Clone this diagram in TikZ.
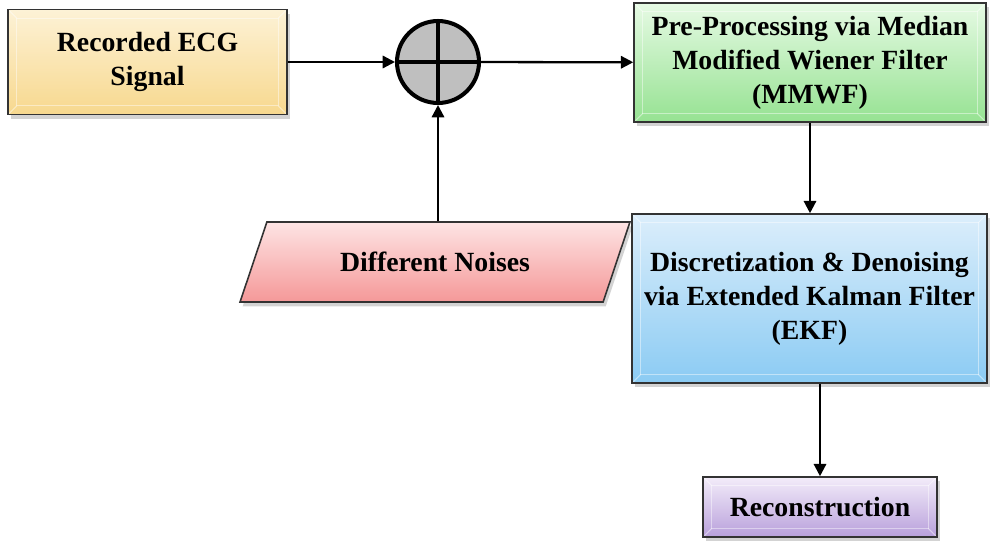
\documentclass[tikz,border=0pt]{standalone}
\usepackage{fontspec}
\setmainfont{Liberation Serif}
\usetikzlibrary{arrows.meta,shapes.geometric,shadows}
\definecolor{ecgtop}{HTML}{FDF2D6}
\definecolor{ecgbot}{HTML}{F7D88E}
\definecolor{wftop}{HTML}{E6FAE4}
\definecolor{wfbot}{HTML}{96E292}
\definecolor{kftop}{HTML}{DCEEFB}
\definecolor{kfbot}{HTML}{8BCBF3}
\definecolor{nztop}{HTML}{FDE4E4}
\definecolor{nzbot}{HTML}{F59898}
\definecolor{rctop}{HTML}{F3ECF9}
\definecolor{rcbot}{HTML}{B8A0DB}
\tikzset{
  bevel/.style={path picture={
    \draw[white,opacity=.45,line width=.6pt]
      ([shift={(5pt,-5pt)}]path picture bounding box.north west) rectangle
      ([shift={(-5pt,5pt)}]path picture bounding box.south east);
    \foreach \c/\dx/\dy in {north west/5pt/-5pt,north east/-5pt/-5pt,
                            south west/5pt/5pt,south east/-5pt/5pt}
      \draw[white,opacity=.45,line width=.6pt] (path picture bounding box.\c) -- ++(\dx,\dy);
  }},
  shade/.style={drop shadow={shadow xshift=1.5pt,shadow yshift=-2.5pt,opacity=.35}},
  block/.style={draw=black!80, line width=0.9pt, align=center, inner sep=2pt,
    font=\fontsize{15.8}{19.3}\selectfont\bfseries, shade},
}

\begin{document}
\begin{tikzpicture}[x=0.02cm,y=-0.02cm,
  arr/.style={-{Triangle[length=7pt,width=7pt]}, line width=1.3pt}]
\useasboundingbox (0,0) rectangle (990,544);

% processing chain
\node[block, bevel, top color=ecgtop, bottom color=ecgbot,
      minimum width=5.58cm, minimum height=2.1cm] (ecg) at (147.5,62)
      {Recorded ECG\\Signal};
\node[circle, draw, line width=2.3pt, fill=black!25, minimum size=1.64cm,
      path picture={
        \draw[line width=1.8pt] (path picture bounding box.north) -- (path picture bounding box.south);
        \draw[line width=1.8pt] (path picture bounding box.west) -- (path picture bounding box.east);
      }] (sum) at (438,62) {};
\node[block, bevel, top color=wftop, bottom color=wfbot,
      minimum width=7.04cm, minimum height=2.38cm] (mmwf) at (810,62.5)
      {Pre-Processing via Median\\Modified Wiener Filter\\(MMWF)};
\node[block, trapezium, trapezium left angle=45, trapezium right angle=135,
      trapezium stretches body, top color=nztop, bottom color=nzbot,
      minimum width=7.8cm, minimum height=1.6cm] (noise) at (435,262)
      {Different Noises};
\node[block, bevel, top color=kftop, bottom color=kfbot,
      minimum width=7.1cm, minimum height=3.38cm] (ekf) at (809.5,298.5)
      {Discretization \& Denoising\\via Extended Kalman Filter\\(EKF)};
\node[block, bevel, top color=rctop, bottom color=rcbot,
      minimum width=4.68cm, minimum height=1.2cm] (recon) at (820,507)
      {Reconstruction};

% connectors
\draw[arr] (ecg) -- (sum);
\draw[arr] (sum) -- (mmwf);
\draw[arr] (noise.north -| sum) -- (sum);
\draw[arr] (mmwf) -- (mmwf |- ekf.north);
\draw[arr] (ekf.south -| recon) -- (recon);
\end{tikzpicture}
\end{document}
